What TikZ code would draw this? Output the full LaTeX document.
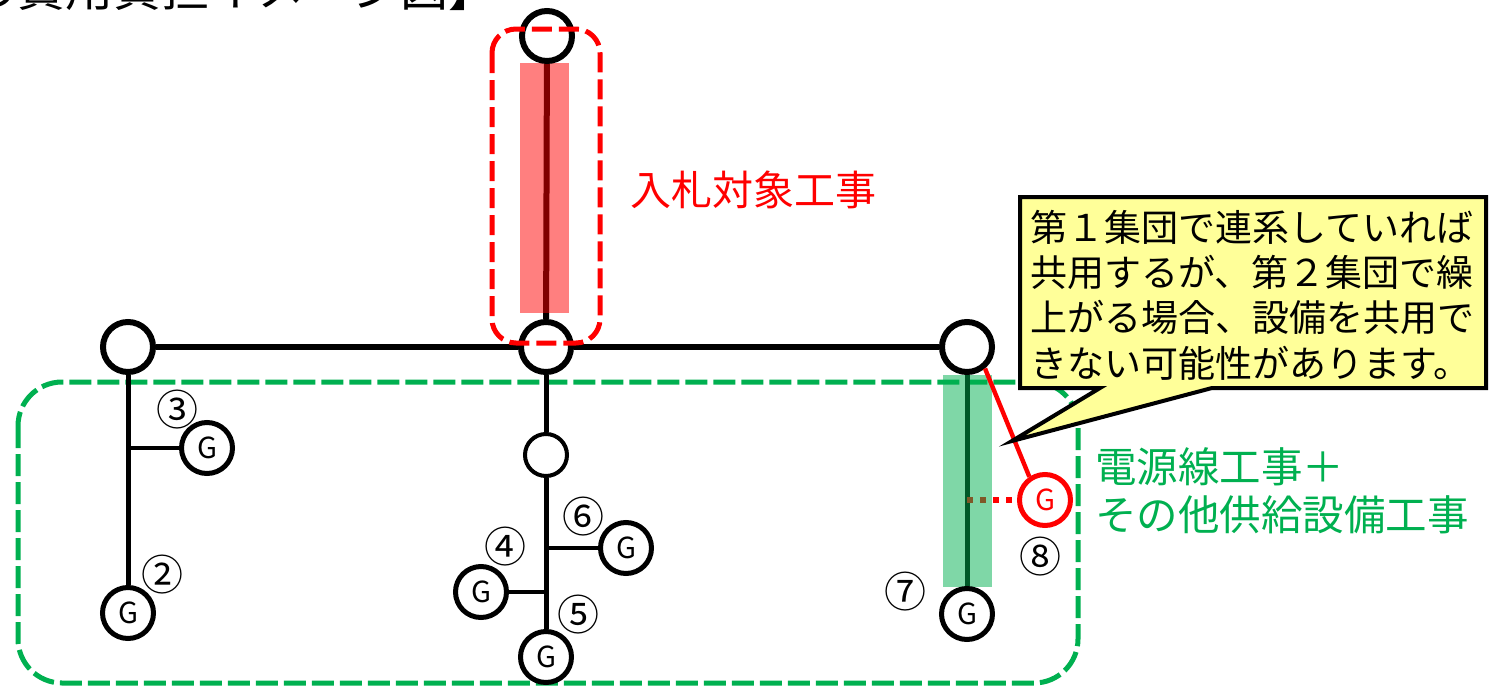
\documentclass[tikz,border=0pt]{standalone}
\usepackage{fontspec}
\setmainfont{Noto Sans CJK JP}
\definecolor{rgreen}{HTML}{00B050}
\definecolor{callout}{HTML}{FFFF99}
\pgfdeclarelayer{bgzero}
\pgfdeclarelayer{bgone}
\pgfdeclarelayer{front}
\pgfsetlayers{bgzero,bgone,main,front}
\begin{document}
\begin{tikzpicture}[x=0.5pt,y=-0.5pt,
  busn/.style={circle,draw=black,line width=3pt,fill=white,minimum size=25pt,inner sep=0pt},
  gen/.style={circle,draw=black,line width=2.5pt,fill=white,minimum size=25.5pt,inner sep=0pt,font=\fontsize{14.5pt}{14.5pt}\selectfont},
  subn/.style={circle,draw=black,line width=2pt,fill=white,minimum size=21pt,inner sep=0pt},
  num/.style={inner sep=0pt,font=\fontsize{21pt}{21pt}\selectfont},
  wire/.style={line width=2.5pt},
  buswire/.style={line width=3pt},
  ]
\useasboundingbox (0,0) rectangle (1489,686);
% title (cut off at top, as in the reference)
\node[anchor=base west,inner sep=0pt,font=\fontsize{24pt}{24pt}\selectfont] (title) at (-31,6) {の費用負担イメージ図】};

% nodes
\node[busn] (top) at (547,36) {};
\node[busn] (bl) at (128,347) {};
\node[busn] (bm) at (546,347) {};
\node[busn] (br) at (967,347) {};
\node[gen] (g2) at (128,613) {G};
\node[gen] (g3) at (207,448) {G};
\node[subn] (sub) at (546,455) {};
\node[gen] (g4) at (481,592) {G};
\node[gen] (g5) at (546,657) {G};
\node[gen] (g6) at (626,548) {G};
\node[gen] (g7) at (967,614) {G};
\node[gen,draw=red,text=red] (g8) at (1045,500) {G};

\begin{pgfonlayer}{bgzero}
\draw[draw=rgreen,line width=2.5pt,dash pattern=on 11pt off 3pt,rounded corners=22pt] (18,382) rectangle (1078,683);
\draw[buswire] (bl) -- (bm) -- (br);
\draw[buswire] (top) -- (bm);
\draw[wire] (bl) -- (g2);
\draw[line width=2pt] (bl |- g3) -- (g3);
\draw[wire] (bm) -- (sub) -- (g5);
\draw[line width=2pt] (bm |- g6) -- (g6);
\draw[line width=2pt] (bm |- g4) -- (g4);
\draw[wire] (br) -- (g7);
\draw[red,line width=3pt,dash pattern=on 3pt off 3.5pt] (br |- g8) -- (g8);
\end{pgfonlayer}
\begin{pgfonlayer}{bgone}
\fill[red,opacity=0.5] (520,63) rectangle (569,313);
\fill[rgreen,opacity=0.5] (943,375) rectangle (992,587);
\end{pgfonlayer}

\begin{pgfonlayer}{front}
\draw[red,line width=2.5pt,dash pattern=on 10pt off 3.5pt,rounded corners=12pt] (492,29) rectangle (600,343);
\draw[red,line width=2.2pt] (br.-50) -- (g8.124);
\draw[fill=callout,line width=2pt] (1020,197) -- (1486,197) -- (1486,388) -- (1212,388) -- (1012,441) -- (1100,388) -- (1020,388) -- cycle;
\node[anchor=west,align=left,inner sep=0pt,font=\fontsize{18.5pt}{22.7pt}\selectfont] (note) at (1030,295)
  {第１集団で連系していれば\\共用するが、第２集団で繰\\上がる場合、設備を共用で\\きない可能性があります。};
\end{pgfonlayer}

% labels
\node[text=red,anchor=west,inner sep=0pt,font=\fontsize{20.5pt}{20.5pt}\selectfont] (lbla) at (630,190) {入札対象工事};
\node[text=rgreen,anchor=west,align=left,inner sep=0pt,font=\fontsize{20.75pt}{24pt}\selectfont] (lblb) at (1095,491) {電源線工事＋\\その他供給設備工事};

\node[num] (n3) at (177,410) {③};
\node[num] (n2) at (162,575) {②};
\node[num] (n6) at (583,517) {⑥};
\node[num] (n4) at (505,547) {④};
\node[num] (n5) at (578,615) {⑤};
\node[num] (n7) at (905,592) {⑦};
\node[num] (n8) at (1040,557) {⑧};
\end{tikzpicture}
\end{document}
